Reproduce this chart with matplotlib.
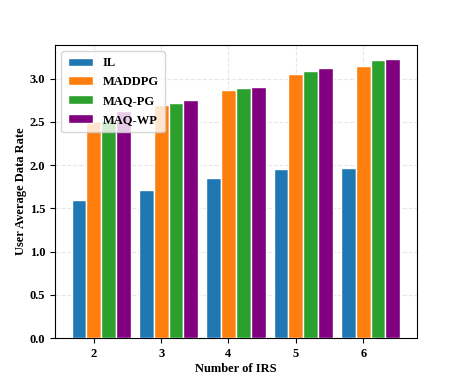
import numpy as np
import matplotlib
matplotlib.use("Agg")
import matplotlib.pyplot as plt

plt.rcParams['font.family'] = ['Liberation Serif', 'DejaVu Serif']
plt.rcParams['font.weight'] = 'bold'

irs = [2, 3, 4, 5, 6]
il = [1.60, 1.71, 1.85, 1.955, 1.97]
maddpg = [2.51, 2.69, 2.87, 3.05, 3.15]
maq_pg = [2.52, 2.715, 2.89, 3.09, 3.21]
maq_wp = [2.63, 2.75, 2.90, 3.12, 3.23]

labels = ['IL', 'MADDPG', 'MAQ-PG', 'MAQ-WP']
colors = ['#1f77b4', '#ff7f0e', '#2ca02c', 'purple']

fig, ax = plt.subplots(figsize=(4.63, 3.8), dpi=100)
x = np.array(irs)
width = 0.22
for i, (vals, lab, c) in enumerate(zip([il, maddpg, maq_pg, maq_wp], labels, colors)):
    ax.bar(x + (i - 1) * width, vals, width, label=lab, color=c,
           edgecolor='white', linewidth=1, zorder=3)

ax.set_xticks(irs)
ax.set_ylim(0, 3.39)
ax.grid(True, linestyle='--', alpha=0.3, zorder=0)
ax.set_xlabel('Number of IRS', fontsize=9, fontweight='bold', labelpad=2)
ax.set_ylabel('User Average Data Rate', fontsize=9, fontweight='bold', labelpad=2)
ax.tick_params(labelsize=9)
for t in ax.get_xticklabels() + ax.get_yticklabels():
    t.set_fontweight('bold')
ax.legend(loc='upper left', prop={'weight': 'bold', 'size': 9},
          handlelength=2.0, labelspacing=0.55, borderpad=0.5)

fig.subplots_adjust(left=0.119, right=0.9, top=0.882, bottom=0.11)
fig.savefig('out.png')
